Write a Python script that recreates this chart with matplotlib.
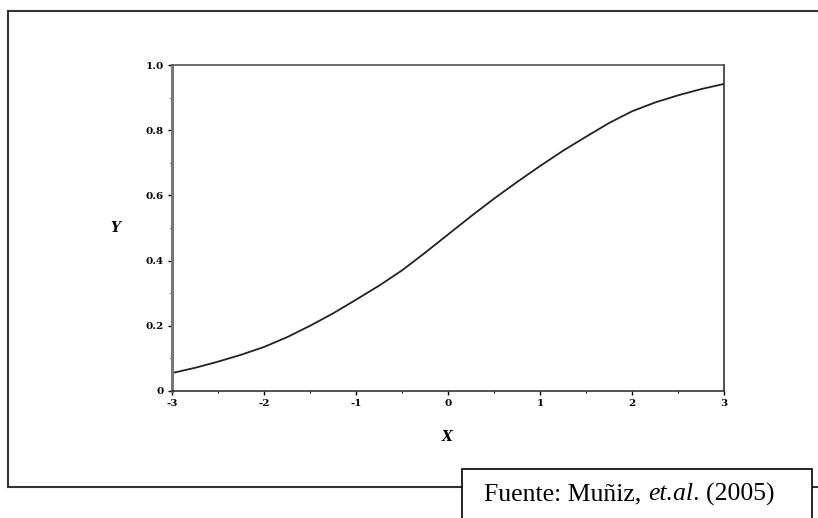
import matplotlib
matplotlib.use("Agg")
import matplotlib.pyplot as plt
from matplotlib.lines import Line2D
from matplotlib.patches import Rectangle
from matplotlib.ticker import MultipleLocator

# values
x_vals = [-3.0, -2.75, -2.5, -2.25, -2.0, -1.75, -1.5, -1.25, -1.0, -0.75, -0.5, -0.25,
          0.0, 0.25, 0.5, 0.75, 1.0, 1.25, 1.5, 1.75, 2.0, 2.25, 2.5, 2.75, 3.0]
y_vals = [0.055, 0.071, 0.09, 0.111, 0.135, 0.165, 0.20, 0.238, 0.28, 0.323, 0.37, 0.424,
          0.48, 0.536, 0.59, 0.641, 0.69, 0.737, 0.78, 0.822, 0.858, 0.885, 0.907, 0.926, 0.942]

x_ticks = [-3, -2, -1, 0, 1, 2, 3]
y_ticks = [0, 0.2, 0.4, 0.6, 0.8, 1.0]
y_tick_labels = ["0", "0.2", "0.4", "0.6", "0.8", "1.0"]
# source note pieces: (text, style)
source_parts = [("Fuente: Muñiz, ", "normal"), ("et.al", "italic"), (". (2005)", "normal")]

fig = plt.figure(figsize=(8.18, 5.18), dpi=100)
ax = fig.add_axes([0.2103, 0.2452, 0.6748, 0.6293])

ax.plot(x_vals, y_vals, color="#222222", linewidth=1.3)

ax.set_xlim(-3, 3)
ax.set_ylim(0, 1)
ax.set_xticks(x_ticks)
ax.set_xticklabels([str(v) for v in x_ticks])
ax.set_yticks(y_ticks)
ax.set_yticklabels(y_tick_labels)
ax.xaxis.set_minor_locator(MultipleLocator(0.5))
ax.yaxis.set_minor_locator(MultipleLocator(0.1))
ax.tick_params(which="major", direction="out", length=3, width=1, pad=3)
ax.tick_params(which="minor", direction="out", length=1.5, width=0.8)
for lab in ax.get_xticklabels() + ax.get_yticklabels():
    lab.set_family("DejaVu Serif")
    lab.set_fontsize(7.5)
    lab.set_fontweight("bold")

for side in ["top", "right", "bottom"]:
    ax.spines[side].set_linewidth(1.2)
    ax.spines[side].set_color("#333333")
ax.spines["left"].set_linewidth(2.2)
ax.spines["left"].set_color("#777777")
ax.spines["top"].set_color("#555555")

fig.text(115 / 818, 1 - 228 / 518, "Y", family="DejaVu Serif", style="italic",
         fontweight="bold", fontsize=10, ha="center", va="center")
fig.text(447 / 818, 1 - 437 / 518, "X", family="DejaVu Serif", style="italic",
         fontweight="bold", fontsize=10, ha="center", va="center")

# outer scanned frame
frame_kw = dict(transform=fig.transFigure, color="#333333", linewidth=1.5)
fig.add_artist(Line2D([8 / 818, 1.0], [1 - 11 / 518, 1 - 11 / 518], **frame_kw))
fig.add_artist(Line2D([8 / 818, 8 / 818], [1 - 11 / 518, 1 - 487 / 518], **frame_kw))
fig.add_artist(Line2D([8 / 818, 1.0], [1 - 487 / 518, 1 - 487 / 518], **frame_kw))

# source box
box = Rectangle((462 / 818, -0.02), (812 - 462) / 818, (518 - 469) / 518 + 0.02,
                transform=fig.transFigure, facecolor="white", edgecolor="black",
                linewidth=1.2, zorder=5)
fig.add_artist(box)

renderer = fig.canvas.get_renderer()
x_px = 484
for txt, st in source_parts:
    t = fig.text(x_px / 818, 1 - 494 / 518, txt, family="Liberation Serif", style=st,
                 fontsize=18.5, ha="left", va="center", zorder=6)
    x_px += t.get_window_extent(renderer).width

fig.savefig("out.png", dpi=100)
